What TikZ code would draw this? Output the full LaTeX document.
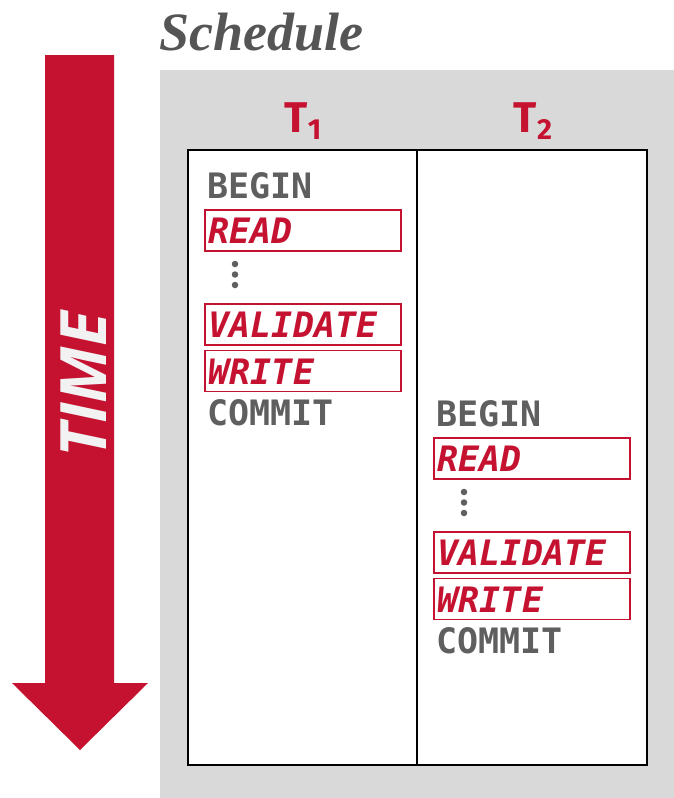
\documentclass[tikz,border=0pt]{standalone}
\usepackage{fontspec}
\usepackage{tikz}
\usetikzlibrary{positioning}
\setmainfont{Open Sans}
\newfontfamily\opfont{DejaVu Sans Mono}
\newfontfamily\titlefont{Liberation Serif}
\newfontfamily\labelfont{Fira Sans}
\usepackage{xcolor}
\definecolor{cmured}{HTML}{C41230}
\definecolor{opgray}{HTML}{5F5F5F}
\definecolor{titlegray}{HTML}{555555}
\definecolor{bggray}{HTML}{D9D9D9}
\definecolor{timewhite}{HTML}{F2F2F2}
\tikzset{
    plainop/.style={
        anchor=base west,
        inner sep=0pt,
        text=opgray,
        font=\opfont\bfseries\fontsize{35}{40}\selectfont
    },
    phaseop/.style={
        draw=cmured,
        line width=1.5pt,
        anchor=west,
        text=cmured,
        minimum width=196pt,
        minimum height=41pt,
        text width=188pt,
        inner xsep=4pt,
        inner ysep=0pt,
        text height=26pt,
        text depth=0pt,
        align=left,
        font=\opfont\bfseries\itshape\fontsize{35}{40}\selectfont
    },
    vdot/.style={
        circle,
        fill=opgray,
        inner sep=0pt,
        minimum size=6.5pt
    },
    txnlabel/.style={
        anchor=base,
        inner sep=0pt,
        text=cmured,
        font=\labelfont\bfseries\fontsize{43}{45}\selectfont
    }
}

\begin{document}
\begin{tikzpicture}[x=1pt, y=-1pt]
  \useasboundingbox (0,0) rectangle (674,798);

  % Time arrow
  \fill[cmured] (45,55) -- (114,55) -- (114,683) -- (148,683) -- (80,750)
    -- (12,683) -- (45,683) -- cycle;
  \node[rotate=90, anchor=base, inner sep=0pt, text=timewhite,
    font=\bfseries\itshape\fontsize{64}{64}\selectfont] (time) at (106,385) {TIME};

  % Schedule
  \node[anchor=base west, inner sep=0pt, text=titlegray,
    font=\titlefont\bfseries\itshape\fontsize{54}{60}\selectfont] (title) at (159,50) {Schedule};
  \fill[bggray] (160,70) rectangle (674,798);
  \draw[line width=1.8pt, fill=white] (188,150) rectangle (647,765);
  \draw[line width=1.8pt] (417,150) -- (417,765);

  % Transaction labels
  \node[txnlabel] (t1) at (303,132) {T\raisebox{-7pt}{\fontsize{29}{29}\selectfont 1}};
  \node[txnlabel] (t2) at (533,132) {T\raisebox{-7pt}{\fontsize{29}{29}\selectfont 2}};

  % First transaction
  \begin{scope}[shift={(0,0)}]
    \node[plainop] (b1) at (207,198) {BEGIN};
    \node[phaseop] (r1) at (204,230.5) {READ};
    \node[vdot] (d1a) at (235,264) {};
    \node[vdot] (d1b) at (235,274.5) {};
    \node[vdot] (d1c) at (235,285) {};
    \node[phaseop] (v1) at (204,324.5) {VALIDATE};
    \node[phaseop] (w1) at (204,371) {WRITE};
    \node[plainop] (c1) at (207,425) {COMMIT};
  \end{scope}

  % Second transaction
  \begin{scope}[shift={(229,228)}]
    \node[plainop] (b2) at (207,198) {BEGIN};
    \node[phaseop] (r2) at (204,230.5) {READ};
    \node[vdot] (d2a) at (235,264) {};
    \node[vdot] (d2b) at (235,274.5) {};
    \node[vdot] (d2c) at (235,285) {};
    \node[phaseop] (v2) at (204,324.5) {VALIDATE};
    \node[phaseop] (w2) at (204,371) {WRITE};
    \node[plainop] (c2) at (207,425) {COMMIT};
  \end{scope}
\end{tikzpicture}
\end{document}
